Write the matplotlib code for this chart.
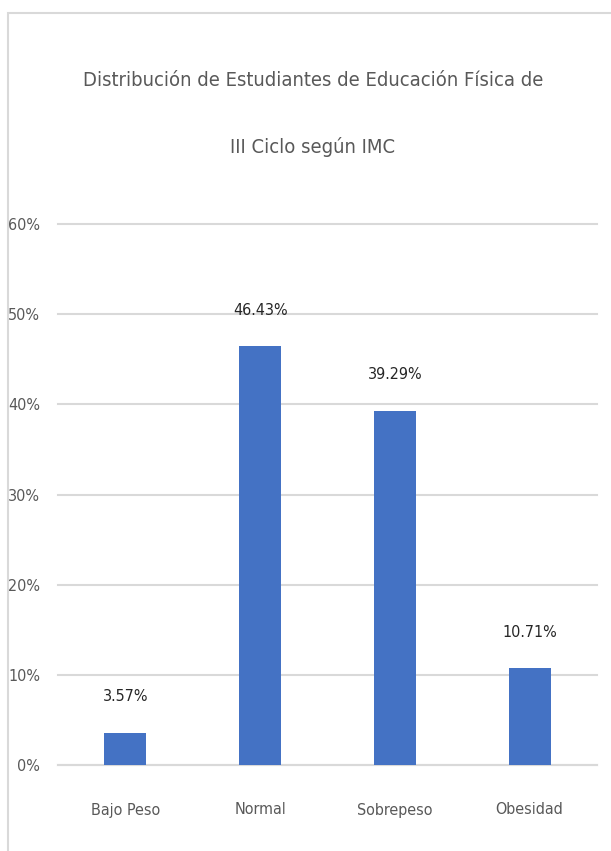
import matplotlib.pyplot as plt
from matplotlib.patches import Rectangle
from matplotlib.ticker import PercentFormatter

categorias = ['Bajo Peso', 'Normal', 'Sobrepeso', 'Obesidad']
porcentajes = [3.57, 46.43, 39.29, 10.71]
etiquetas = ['3.57%', '46.43%', '39.29%', '10.71%']

plt.rcParams['font.family'] = ['DejaVu Sans']
plt.rcParams['font.stretch'] = 'condensed'

fig = plt.figure(figsize=(6.11, 8.51), dpi=100)
# marco del grafico (como en Excel)
fig.patches.append(Rectangle((8 / 611, -0.05), 1.1, 1 - 13 / 851 + 0.05,
                             transform=fig.transFigure, fill=False,
                             edgecolor='#d9d9d9', linewidth=1.5))

ax = fig.add_axes([58 / 611, 1 - 765 / 851, (597 - 58) / 611, (765 - 224) / 851])
x = range(len(categorias))
ax.bar(x, porcentajes, width=0.31, color='#4472C4', zorder=3)
for i, v in enumerate(porcentajes):
    ax.text(i, v + 4.0, etiquetas[i], ha='center', va='center',
            fontsize=11.5, color='#262626')

ax.set_xlim(-0.5, 3.5)
ax.set_ylim(0, 60)
ax.set_yticks(range(0, 61, 10))
ax.yaxis.set_major_formatter(PercentFormatter(decimals=0))
ax.grid(axis='y', color='#d9d9d9', linewidth=1.5, zorder=0)
# que la linea del 60% no quede recortada en el borde
for gl in ax.get_ygridlines():
    gl.set_clip_on(False)
ax.set_xticks(list(x))
ax.set_xticklabels(categorias)
ax.tick_params(axis='both', length=0, labelsize=11.5, labelcolor='#595959')
ax.tick_params(axis='x', pad=27)
ax.tick_params(axis='y', pad=13)
for s in ['top', 'right', 'left']:
    ax.spines[s].set_visible(False)
ax.spines['bottom'].set_color('#d9d9d9')
ax.spines['bottom'].set_linewidth(1.5)

fig.text(0.512, 1 - 80 / 851, 'Distribución de Estudiantes de Educación Física de',
         ha='center', va='center', fontsize=14.5, color='#595959')
fig.text(0.512, 1 - 147 / 851, 'III Ciclo según IMC',
         ha='center', va='center', fontsize=14.5, color='#595959')

fig.savefig('out.png', dpi=100)
